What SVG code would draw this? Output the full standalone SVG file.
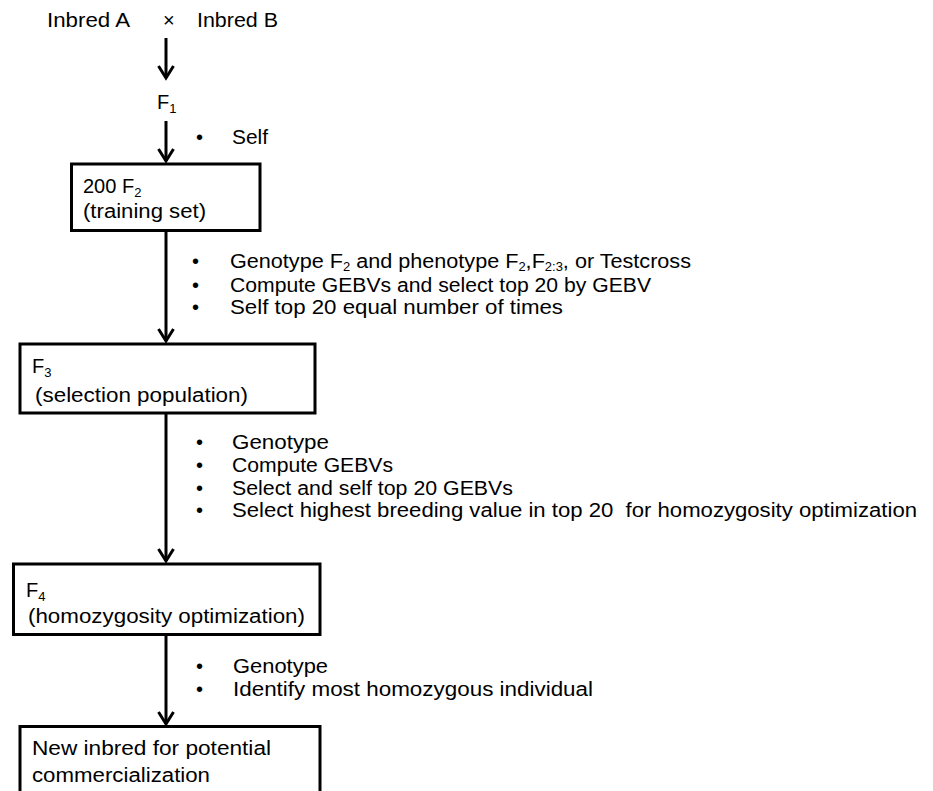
<svg xmlns="http://www.w3.org/2000/svg" width="933" height="791" viewBox="0 0 933 791">
<style>
text { font-family: "Liberation Sans", Arial, sans-serif; font-size: 20px; fill: #000; }
.box { fill: #fff; stroke: #000; stroke-width: 3; }
.conn { stroke: #000; stroke-width: 3; fill: none; marker-end: url(#ah); }
.sub { font-size: 13px; }
.sub2 { font-size: 12px; }
</style>
<defs>
<marker id="ah" markerUnits="userSpaceOnUse" markerWidth="30" markerHeight="30" refX="0" refY="0" viewBox="-15 -15 30 30" orient="auto" overflow="visible">
<path d="M-12,-7.5 L0,0 L-12,7.5" fill="none" stroke="#000" stroke-width="3"/>
</marker>
</defs>
<rect width="933" height="791" fill="#fff"/>
<g id="connectors">
<line class="conn" x1="166" y1="38" x2="166" y2="78"/>
<line class="conn" x1="166" y1="121" x2="166" y2="161"/>
<line class="conn" x1="166" y1="232" x2="166" y2="341"/>
<line class="conn" x1="166" y1="414" x2="166" y2="561"/>
<line class="conn" x1="166" y1="636" x2="166" y2="724"/>
</g>
<g id="parents">
<text x="47" y="27" textLength="83" lengthAdjust="spacingAndGlyphs">Inbred A</text>
<text x="163" y="27">×</text>
<text x="197" y="27" textLength="81" lengthAdjust="spacingAndGlyphs">Inbred B</text>
</g>
<g id="f1">
<text x="157" y="109">F<tspan class="sub" dy="4">1</tspan></text>
</g>
<g id="step-self">
<text x="196" y="144">•</text>
<text x="232" y="144" textLength="36" lengthAdjust="spacingAndGlyphs">Self</text>
</g>
<g id="f2">
<rect class="box" x="71.5" y="164" width="188.5" height="66.5"/>
<text x="83" y="193">200 F<tspan class="sub" dy="4">2</tspan></text>
<text x="83" y="218" textLength="123" lengthAdjust="spacingAndGlyphs">(training set)</text>
</g>
<g id="step-f2">
<text x="192" y="268">•</text>
<text x="230" y="268" textLength="461" lengthAdjust="spacingAndGlyphs">Genotype F<tspan class="sub2" dy="3">2</tspan><tspan dy="-3"> and phenotype F</tspan><tspan class="sub2" dy="3">2</tspan><tspan dy="-3">,F</tspan><tspan class="sub2" dy="3">2:3</tspan><tspan dy="-3">, or Testcross</tspan></text>
<text x="192" y="292">•</text>
<text x="230" y="292" textLength="421" lengthAdjust="spacingAndGlyphs">Compute GEBVs and select top 20 by GEBV</text>
<text x="192" y="314">•</text>
<text x="230" y="314" textLength="333" lengthAdjust="spacingAndGlyphs">Self top 20 equal number of times</text>
</g>
<g id="f3">
<rect class="box" x="20" y="344" width="295" height="69"/>
<text x="32" y="373">F<tspan class="sub" dy="4">3</tspan></text>
<text x="35" y="402" textLength="213" lengthAdjust="spacingAndGlyphs">(selection population)</text>
</g>
<g id="step-f3">
<text x="196" y="449">•</text>
<text x="232" y="449" textLength="97" lengthAdjust="spacingAndGlyphs">Genotype</text>
<text x="196" y="472">•</text>
<text x="232" y="472" textLength="161" lengthAdjust="spacingAndGlyphs">Compute GEBVs</text>
<text x="196" y="495">•</text>
<text x="232" y="495" textLength="281" lengthAdjust="spacingAndGlyphs">Select and self top 20 GEBVs</text>
<text x="196" y="517">•</text>
<text x="232" y="517" xml:space="preserve" textLength="685" lengthAdjust="spacingAndGlyphs">Select highest breeding value in top 20  for homozygosity optimization</text>
</g>
<g id="f4">
<rect class="box" x="13.5" y="564" width="306.5" height="70.5"/>
<text x="26" y="597">F<tspan class="sub" dy="4">4</tspan></text>
<text x="28" y="623" textLength="277" lengthAdjust="spacingAndGlyphs">(homozygosity optimization)</text>
</g>
<g id="step-f4">
<text x="196" y="673">•</text>
<text x="233" y="673" textLength="95" lengthAdjust="spacingAndGlyphs">Genotype</text>
<text x="196" y="696">•</text>
<text x="233" y="696" textLength="360" lengthAdjust="spacingAndGlyphs">Identify most homozygous individual</text>
</g>
<g id="new-inbred">
<rect class="box" x="20" y="726.5" width="300" height="80"/>
<text x="32" y="755" textLength="239" lengthAdjust="spacingAndGlyphs">New inbred for potential</text>
<text x="32" y="782" textLength="178" lengthAdjust="spacingAndGlyphs">commercialization</text>
</g>
</svg>
